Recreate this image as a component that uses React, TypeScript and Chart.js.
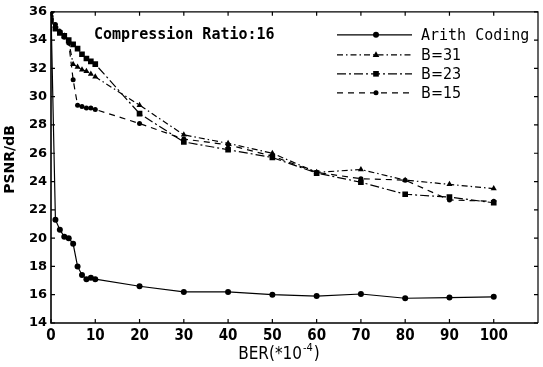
import React, { useEffect, useRef } from 'react';
import { Chart, registerables } from 'chart.js';

Chart.register(...registerables);

// ---- data ----
const berValues = [0, 1, 2, 3, 4, 5, 6, 7, 8, 9, 10, 20, 30, 40, 50, 60, 70, 80, 90, 100];
const arithCoding = [36.0, 21.3, 20.6, 20.1, 20.0, 19.6, 18.0, 17.4, 17.1, 17.2, 17.1, 16.6, 16.2, 16.2, 16.0, 15.9, 16.05, 15.75, 15.8, 15.85];
const b31 = [35.8, 35.0, 34.6, 34.3, 33.9, 32.3, 32.1, 31.9, 31.8, 31.6, 31.4, 29.4, 27.3, 26.7, 26.0, 24.65, 24.85, 24.1, 23.8, 23.5];
const b23 = [35.4, 34.8, 34.5, 34.3, 34.0, 33.7, 33.4, 33.0, 32.7, 32.5, 32.3, 28.8, 26.8, 26.25, 25.7, 24.6, 23.95, 23.1, 22.9, 22.5];
const b15 = [36.0, 35.1, 34.6, 34.2, 33.8, 31.2, 29.4, 29.3, 29.2, 29.2, 29.1, 28.1, 27.0, 26.6, 25.8, 24.65, 24.2, 24.1, 22.7, 22.6];
const seriesNames = ['Arith Coding', 'B=31', 'B=23', 'B=15'];
const xTickValues = [0, 10, 20, 30, 40, 50, 60, 70, 80, 90, 100];
const yTickValues = [14, 16, 18, 20, 22, 24, 26, 28, 30, 32, 34, 36];
const xMin = 0;
const xMax = 110;
const yMin = 14;
const yMax = 36;
const annotationText = 'Compression Ratio:16';
const xTitleMain = 'BER(*10';
const xTitleSup = '-4';
const xTitleEnd = ')';
const yTitle = 'PSNR/dB';

const seriesValues = [arithCoding, b31, b23, b15];
const seriesStyles = [
  { pointStyle: 'circle', radius: 3, dash: [] as number[] },
  { pointStyle: 'triangle', radius: 3.5, dash: [6, 3, 1.5, 3] },
  { pointStyle: 'rect', radius: 4, dash: [9, 3, 2, 3] },
  { pointStyle: 'circle', radius: 2.5, dash: [6, 5] },
];

const narrowFamily = '"Liberation Sans Narrow", "DejaVu Sans Condensed", sans-serif';

function drawMarker(ctx: CanvasRenderingContext2D, style: string, x: number, y: number, r: number) {
  ctx.beginPath();
  if (style === 'circle') {
    ctx.arc(x, y, r, 0, Math.PI * 2);
  } else if (style === 'triangle') {
    ctx.moveTo(x, y - r);
    ctx.lineTo(x + r * 0.95, y + r * 0.6);
    ctx.lineTo(x - r * 0.95, y + r * 0.6);
    ctx.closePath();
  } else {
    const s = r * Math.SQRT1_2;
    ctx.rect(x - s, y - s, 2 * s, 2 * s);
  }
  ctx.fill();
}

const decorPlugin = {
  id: 'decor',
  afterDraw(chart: any) {
    const ctx: CanvasRenderingContext2D = chart.ctx;
    const { left, right, top, bottom } = chart.chartArea;
    const xs = chart.scales.x;
    const ys = chart.scales.y;
    ctx.save();
    ctx.strokeStyle = '#000';
    ctx.fillStyle = '#000';
    ctx.setLineDash([]);
    // frame
    ctx.lineWidth = 1.6;
    ctx.beginPath();
    ctx.moveTo(left, top);
    ctx.lineTo(left, bottom);
    ctx.lineTo(right, bottom);
    ctx.stroke();
    ctx.lineWidth = 1.2;
    ctx.beginPath();
    ctx.moveTo(left, top);
    ctx.lineTo(right, top);
    ctx.lineTo(right, bottom);
    ctx.stroke();
    // inward ticks
    ctx.lineWidth = 1.2;
    const tl = 4;
    ctx.beginPath();
    for (const v of xTickValues) {
      const px = xs.getPixelForValue(v);
      ctx.moveTo(px, bottom);
      ctx.lineTo(px, bottom - tl);
      ctx.moveTo(px, top);
      ctx.lineTo(px, top + tl);
    }
    for (const v of yTickValues) {
      const py = ys.getPixelForValue(v);
      ctx.moveTo(left, py);
      ctx.lineTo(left + tl, py);
      ctx.moveTo(right, py);
      ctx.lineTo(right - tl, py);
    }
    ctx.stroke();

    // annotation
    ctx.font = 'bold 15px "DejaVu Sans Mono"';
    ctx.textBaseline = 'middle';
    ctx.textAlign = 'left';
    ctx.fillText(annotationText, left + 43, top + 23);

    // legend
    const lx0 = left + 286;
    const lx1 = left + 361;
    const mx = left + 325;
    const rowY = [top + 23, top + 43, top + 62, top + 81];
    seriesNames.forEach((name, i) => {
      const st = seriesStyles[i];
      const y = rowY[i];
      ctx.lineWidth = 1.2;
      ctx.setLineDash(st.dash);
      ctx.beginPath();
      ctx.moveTo(lx0, y);
      ctx.lineTo(lx1, y);
      ctx.stroke();
      ctx.setLineDash([]);
      drawMarker(ctx, st.pointStyle, mx, y, st.radius);
      if (i === 0) {
        ctx.font = '15px "DejaVu Sans Mono"';
      } else {
        ctx.font = '16px ' + narrowFamily;
      }
      ctx.fillText(name, left + 370, y + 1);
    });

    // y title
    ctx.save();
    ctx.translate(10, (top + bottom) / 2 - 8);
    ctx.rotate(-Math.PI / 2);
    ctx.font = 'bold 14px "DejaVu Sans"';
    ctx.textAlign = 'center';
    ctx.textBaseline = 'middle';
    ctx.fillText(yTitle, 0, 0);
    ctx.restore();

    // x title with superscript
    ctx.textAlign = 'left';
    ctx.textBaseline = 'alphabetic';
    const mainFont = '17px ' + narrowFamily;
    const supFont = '11px ' + narrowFamily;
    ctx.font = mainFont;
    const w1 = ctx.measureText(xTitleMain).width;
    ctx.font = supFont;
    const w2 = ctx.measureText(xTitleSup).width;
    ctx.font = mainFont;
    const w3 = ctx.measureText(xTitleEnd).width;
    const total = w1 + w2 + 2 + w3;
    let tx = 279 - total / 2;
    const baseY = bottom + 36;
    ctx.fillText(xTitleMain, tx, baseY);
    tx += w1 + 1;
    ctx.font = supFont;
    ctx.fillText(xTitleSup, tx, baseY - 8);
    tx += w2 + 1;
    ctx.font = mainFont;
    ctx.fillText(xTitleEnd, tx, baseY);
    ctx.restore();
  },
};

export default function App() {
  const canvasRef = useRef<HTMLCanvasElement | null>(null);

  useEffect(() => {
    const canvas = canvasRef.current;
    if (!canvas) return;
    const datasets = seriesNames.map((name, i) => ({
      label: name,
      data: berValues.map((x, j) => ({ x, y: seriesValues[i][j] })),
      borderColor: '#000',
      backgroundColor: '#000',
      borderWidth: 1.2,
      borderDash: seriesStyles[i].dash,
      pointStyle: seriesStyles[i].pointStyle as any,
      pointRadius: seriesStyles[i].radius,
      pointBorderWidth: 0,
      pointBackgroundColor: '#000',
      tension: 0,
      fill: false,
    }));
    const chart = new Chart(canvas, {
      type: 'line',
      data: { datasets },
      options: {
        animation: false,
        responsive: false,
        maintainAspectRatio: false,
        devicePixelRatio: 1,
        layout: { padding: { left: 0, top: 10, right: 5, bottom: 0 } },
        plugins: {
          legend: { display: false },
          tooltip: { enabled: false },
        },
        scales: {
          x: {
            type: 'linear',
            min: xMin,
            max: xMax,
            grid: { display: false, drawTicks: false },
            border: { display: false },
            afterBuildTicks: (scale: any) => {
              scale.ticks = xTickValues.map((v) => ({ value: v }));
            },
            afterFit: (scale: any) => {
              scale.height = 44;
            },
            ticks: {
              color: '#000',
              padding: 4,
              maxRotation: 0,
              autoSkip: false,
              font: { family: narrowFamily, size: 15, weight: 'bold' },
            },
          },
          y: {
            type: 'linear',
            min: yMin,
            max: yMax,
            grid: { display: false, drawTicks: false },
            border: { display: false },
            afterBuildTicks: (scale: any) => {
              scale.ticks = yTickValues.map((v) => ({ value: v }));
            },
            afterFit: (scale: any) => {
              scale.width = 51;
            },
            ticks: {
              color: '#000',
              padding: 4,
              autoSkip: false,
              font: { family: '"DejaVu Sans"', size: 13, weight: 'bold' },
            },
          },
        },
      },
      plugins: [decorPlugin],
    });
    return () => chart.destroy();
  }, []);

  return (
    <div style={{ position: 'fixed', left: 0, top: 0, width: 543, height: 367, background: '#fff' }}>
      <canvas ref={canvasRef} width={543} height={367} style={{ display: 'block', width: 543, height: 367 }} />
    </div>
  );
}
